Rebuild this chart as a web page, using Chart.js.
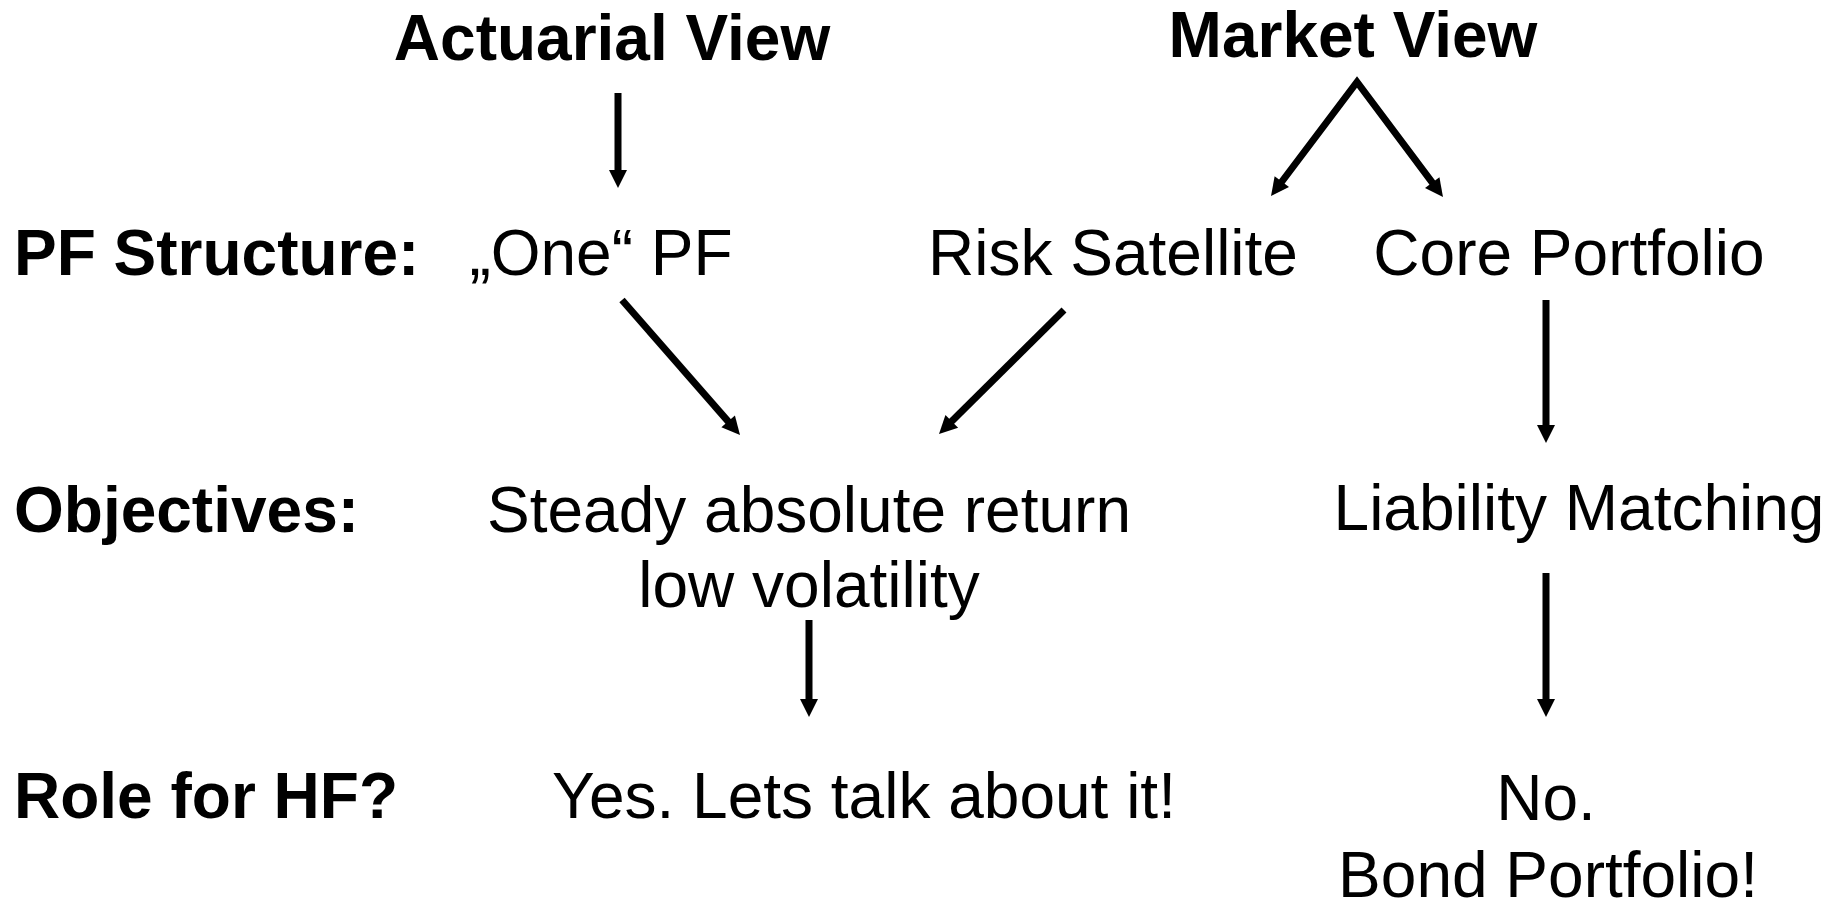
<!DOCTYPE html>
<html>
<head>
<meta charset="utf-8">
<script src="https://cdn.jsdelivr.net/npm/chart.js@4/dist/chart.umd.min.js"></script>
<style>
html, body { margin: 0; padding: 0; background: #fff; }
#wrap { width: 1843px; height: 899px; position: relative; }
</style>
</head>
<body>
<div id="wrap"><canvas id="diagram"></canvas></div>
<script>
// diagram units: one unit = one pixel of the 1843 x 899 page, y counted downwards

// column headers
var TitleTexts = ['Actuarial View', 'Market View'];
var TitleX = [612, 1353];
var TitleY = [60, 57];

// row captions (left aligned)
var RowTexts = ['PF Structure:', 'Objectives:', 'Role for HF?'];
var RowX = [14, 14, 14];
var RowY = [275, 532, 818];

// boxes of the flow
var NodeTexts = ['\u201EOne\u201C PF', 'Risk Satellite', 'Core Portfolio',
    'Steady absolute return', 'low volatility', 'Liability Matching',
    'Yes. Lets talk about it!', 'No.', 'Bond Portfolio!'];
var NodeX = [601, 1113, 1569, 809, 809, 1579, 864, 1546, 1548];
var NodeY = [275, 275, 275, 532, 607, 530, 818, 820, 897];

// arrows: each one is a path, heads at the end (or at both ends)
var ArrowX = [[618, 618], [1271, 1357, 1443], [622, 740], [1064, 939],
    [1546, 1546], [809, 809], [1546, 1546]];
var ArrowY = [[93, 188], [196, 82, 197], [300, 435], [310, 434],
    [300, 443], [620, 717], [573, 717]];
var ArrowHeads = ['end', 'both', 'end', 'end', 'end', 'end', 'end'];

var HEAD_LEN = 18;
var HEAD_HALF = 9;
var FONT = '"Liberation Sans", Arial, Helvetica, sans-serif';

var arrowDatasets = ArrowX.map(function (xs, i) {
    return {
        label: 'arrow ' + (i + 1),
        data: xs.map(function (x, j) { return { x: x, y: ArrowY[i][j] }; }),
        showLine: true,
        borderColor: '#000',
        borderWidth: 7,
        borderCapStyle: 'butt',
        borderJoinStyle: 'miter',
        pointRadius: 0,
        pointHoverRadius: 0,
        heads: ArrowHeads[i]
    };
});

function px(chart, p) {
    return { x: chart.scales.x.getPixelForValue(p.x), y: chart.scales.y.getPixelForValue(p.y) };
}

// ends of the path that carry a head: [tip index, previous index]
function headEnds(ds) {
    var n = ds.data.length;
    var ends = [[n - 1, n - 2]];
    if (ds.heads === 'both') ends.push([0, 1]);
    return ends;
}

var arrowPlugin = {
    id: 'arrowPlugin',
    beforeDatasetDraw: function (chart, args) {
        var ds = chart.data.datasets[args.index];
        var pts = args.meta.data;
        headEnds(ds).forEach(function (e) {
            var t = px(chart, ds.data[e[0]]), f = px(chart, ds.data[e[1]]);
            var dx = t.x - f.x, dy = t.y - f.y, len = Math.hypot(dx, dy);
            // pull the line back so its butt end hides under the head
            pts[e[0]].x = t.x - dx / len * HEAD_LEN * 0.8;
            pts[e[0]].y = t.y - dy / len * HEAD_LEN * 0.8;
        });
    },
    afterDatasetDraw: function (chart, args) {
        var ctx = chart.ctx;
        var ds = chart.data.datasets[args.index];
        headEnds(ds).forEach(function (e) {
            var t = px(chart, ds.data[e[0]]), f = px(chart, ds.data[e[1]]);
            var dx = t.x - f.x, dy = t.y - f.y, len = Math.hypot(dx, dy);
            var ux = dx / len, uy = dy / len;
            var bx = t.x - ux * HEAD_LEN, by = t.y - uy * HEAD_LEN;
            ctx.save();
            ctx.fillStyle = '#000';
            ctx.beginPath();
            ctx.moveTo(t.x, t.y);
            ctx.lineTo(bx - uy * HEAD_HALF, by + ux * HEAD_HALF);
            ctx.lineTo(bx + uy * HEAD_HALF, by - ux * HEAD_HALF);
            ctx.closePath();
            ctx.fill();
            ctx.restore();
        });
    }
};

var textPlugin = {
    id: 'textPlugin',
    afterDraw: function (chart) {
        var ctx = chart.ctx;
        function put(texts, xs, ys, font, align) {
            ctx.save();
            ctx.fillStyle = '#000';
            ctx.font = font;
            ctx.textAlign = align;
            ctx.textBaseline = 'alphabetic';
            texts.forEach(function (t, i) {
                var p = px(chart, { x: xs[i], y: ys[i] });
                ctx.fillText(t, p.x, p.y);
            });
            ctx.restore();
        }
        put(TitleTexts, TitleX, TitleY, 'bold 64px ' + FONT, 'center');
        put(RowTexts, RowX, RowY, 'bold 64px ' + FONT, 'left');
        put(NodeTexts, NodeX, NodeY, '64px ' + FONT, 'center');
    }
};

var diagram = new Chart(document.getElementById('diagram'), {
    type: 'scatter',
    data: { datasets: arrowDatasets },
    options: {
        responsive: true,
        maintainAspectRatio: false,
        animation: false,
        layout: { padding: 0 },
        scales: {
            x: { type: 'linear', min: 0, max: 1843, display: false },
            y: { type: 'linear', min: 0, max: 899, reverse: true, display: false }
        },
        plugins: {
            legend: { display: false },
            tooltip: { enabled: false }
        },
        events: []
    },
    plugins: [arrowPlugin, textPlugin]
});
</script>
</body>
</html>
